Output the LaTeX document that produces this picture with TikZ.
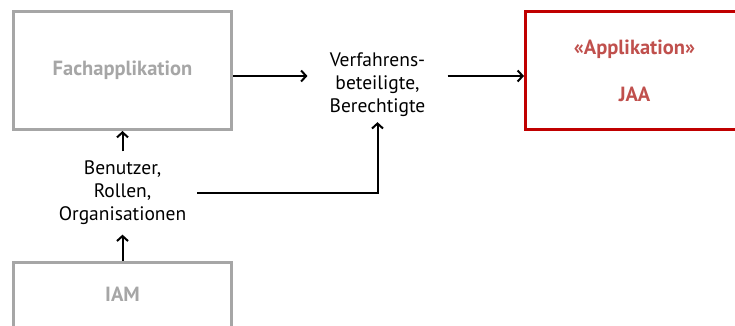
\documentclass[tikz,border=0pt]{standalone}
\usepackage{fontspec}
\setmainfont{PT Sans}
\usepackage{xcolor}
\usepackage{tikz}
\usetikzlibrary{arrows.meta,positioning}
\definecolor{sysgray}{HTML}{A6A6A6}
\definecolor{appred}{HTML}{C00000}
\definecolor{apptext}{HTML}{C0504D}
\tikzset{>={Straight Barb[length=5pt, width=11pt]}}

\begin{document}
\begin{tikzpicture}[x=1pt, y=-1pt,
				sysbox/.style={rectangle, draw=sysgray, line width=3pt, minimum width=218pt, minimum height=118pt, inner sep=0pt, align=center, text=sysgray, font=\fontsize{20.5}{23}\selectfont\bfseries},
				appbox/.style={sysbox, draw=appred, text=apptext},
				info/.style={align=center, inner xsep=11pt, inner ysep=9.5pt, font=\fontsize{19.5}{23}\selectfont},
				arrow/.style={->, line width=2pt, draw=black}]
				
				\useasboundingbox (0,0) rectangle (735,325);
				
				\node[sysbox] (fach) at (122.5,70.5) {Fachapplikation};
				\node[appbox] (jaa) at (634.5,70.5) {«Applikation»\\[24pt]JAA};
				\node[sysbox, label={[name=iamlabel, anchor=north, yshift=-26pt, inner sep=0pt, text=sysgray, font=\fontsize{20.5}{23}\selectfont\bfseries]north:IAM}] (iam) at (122.5,321.5) {};
				\node[info] (users) at (122.5,193) {Benutzer,\\Rollen,\\Organisationen};
				\node[info, inner xsep=22pt, inner ysep=5pt] (parties) at (377.5,85) {Verfahrens-\\beteiligte,\\Berechtigte};
				
				\draw[arrow] ([yshift=-5.5pt]fach.east) coordinate (row) -- (row -| parties.west);
				\draw[arrow] (row -| parties.east) -- (row -| jaa.west);
				\draw[arrow] (users.north) -- (fach.south);
				\draw[arrow] (iam.north) -- (users.south);
				\draw[arrow] (users.east) -| (parties.south);
				
			\end{tikzpicture}
\end{document}
